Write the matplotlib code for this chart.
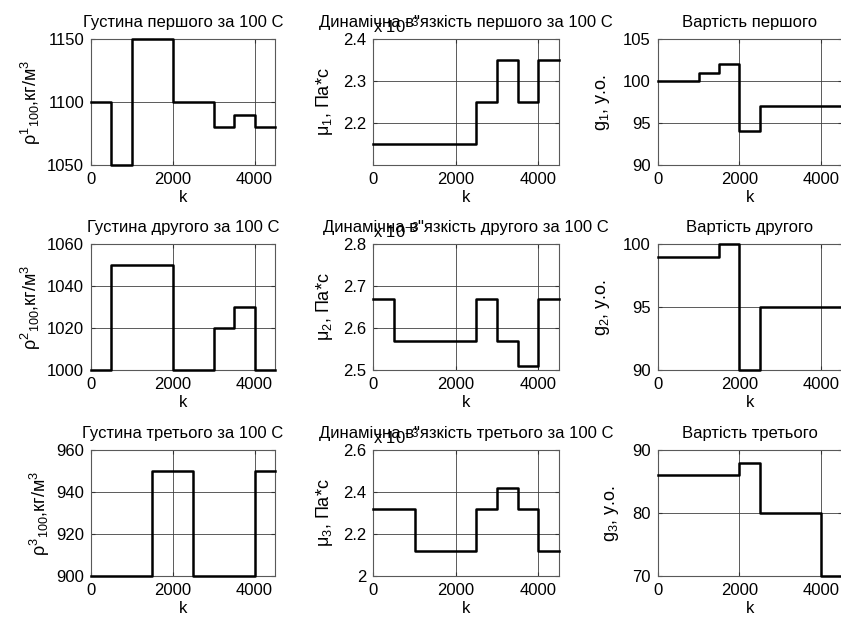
import numpy as np
import matplotlib.pyplot as plt

plt.rcParams['font.family'] = ['Liberation Sans', 'DejaVu Sans']
plt.rcParams['mathtext.fontset'] = 'custom'
plt.rcParams['mathtext.rm'] = 'Liberation Sans'
plt.rcParams['mathtext.it'] = 'Liberation Sans'
plt.rcParams['font.size'] = 12

# Segment starts (each segment is 500 long), last edge at 4500
k = [0, 500, 1000, 1500, 2000, 2500, 3000, 3500, 4000]
k_end = 4500

# Densities at 100 C, kg/m^3
rho1 = [1100, 1050, 1150, 1150, 1100, 1100, 1080, 1090, 1080]
rho2 = [1000, 1050, 1050, 1050, 1000, 1000, 1020, 1030, 1000]
rho3 = [900, 900, 900, 950, 950, 900, 900, 900, 950]

# Dynamic viscosities, x 10^-3 Pa*s
mu1 = [2.15, 2.15, 2.15, 2.15, 2.15, 2.25, 2.35, 2.25, 2.35]
mu2 = [2.67, 2.57, 2.57, 2.57, 2.57, 2.67, 2.57, 2.51, 2.67]
mu3 = [2.32, 2.32, 2.12, 2.12, 2.12, 2.32, 2.42, 2.32, 2.12]

# Costs
g1 = [100, 100, 101, 102, 94, 97, 97, 97, 97]
g2 = [99, 99, 99, 100, 90, 95, 95, 95, 95]
g3 = [86, 86, 86, 86, 88, 80, 80, 80, 70]

ordinals = ['першого', 'другого', 'третього']
rho_all = [rho1, rho2, rho3]
mu_all = [mu1, mu2, mu3]
g_all = [g1, g2, g3]

rho_lims = [(1050, 1150), (1000, 1060), (900, 960)]
rho_ticks = [[1050, 1100, 1150], [1000, 1020, 1040, 1060], [900, 920, 940, 960]]
mu_lims = [(2.1, 2.4), (2.5, 2.8), (2.0, 2.6)]
mu_ticks = [[2.2, 2.3, 2.4], [2.5, 2.6, 2.7, 2.8], [2.0, 2.2, 2.4, 2.6]]
mu_ticklabels = [['2.2', '2.3', '2.4'], ['2.5', '2.6', '2.7', '2.8'], ['2', '2.2', '2.4', '2.6']]
g_lims = [(90, 105), (90, 100), (70, 90)]
g_ticks = [[90, 95, 100, 105], [90, 95, 100], [70, 80, 90]]

fig = plt.figure(figsize=(8.41, 6.18), dpi=100)

lefts = [0.1082, 0.4439, 0.782]
widths = [0.2188, 0.2205, 0.2188]
bottoms = [0.733, 0.4013, 0.068]
height = 0.2035


def style(ax, ylim, yticks):
    ax.set_xlim(0, k_end)
    ax.set_ylim(*ylim)
    ax.set_xticks([0, 2000, 4000])
    ax.set_yticks(yticks)
    ax.grid(True, color='0.25', linewidth=0.6)
    ax.tick_params(direction='in', length=3, width=0.8, top=True, right=True,
                   labelsize=12, color='0.2')
    ax.tick_params(axis='x', pad=5)
    ax.tick_params(axis='y', pad=5)
    for s in ax.spines.values():
        s.set_color('0.35')
        s.set_linewidth(0.8)
    ax.set_xlabel('k', labelpad=2)


for i in range(3):
    xs = k + [k_end]
    # density
    ax = fig.add_axes([lefts[0], bottoms[i], widths[0], height])
    ax.step(xs, rho_all[i] + [rho_all[i][-1]], where='post', color='k', lw=1.8, clip_on=False, zorder=3)
    style(ax, rho_lims[i], rho_ticks[i])
    ax.set_title('Густина %s за 100 С' % ordinals[i], fontsize=12, pad=9)
    ax.set_ylabel('ρ$^{%d}{}_{100}$,кг/м$^3$' % (i + 1), fontsize=13, labelpad=3)

    # viscosity
    ax = fig.add_axes([lefts[1], bottoms[i], widths[1], height])
    ax.step(xs, mu_all[i] + [mu_all[i][-1]], where='post', color='k', lw=1.8, clip_on=False, zorder=3)
    style(ax, mu_lims[i], mu_ticks[i])
    ax.set_yticklabels(mu_ticklabels[i])
    ax.text(0.0, 1.03, 'x 10$^{-3}$', transform=ax.transAxes, fontsize=12, va='bottom', ha='left')
    ax.set_title('Динамічна в"язкість %s за 100 С' % ordinals[i], fontsize=12, pad=9)
    ax.set_ylabel('μ$_%d$, Па*с' % (i + 1), fontsize=13, labelpad=6)

    # cost
    ax = fig.add_axes([lefts[2], bottoms[i], widths[2], height])
    ax.step(xs, g_all[i] + [g_all[i][-1]], where='post', color='k', lw=1.8, clip_on=False, zorder=3)
    style(ax, g_lims[i], g_ticks[i])
    ax.set_title('Вартість %s' % ordinals[i], fontsize=12, pad=9)
    ax.set_ylabel('g$_%d$, у.о.' % (i + 1), fontsize=13, labelpad=8)

fig.savefig('out.png', dpi=100)
